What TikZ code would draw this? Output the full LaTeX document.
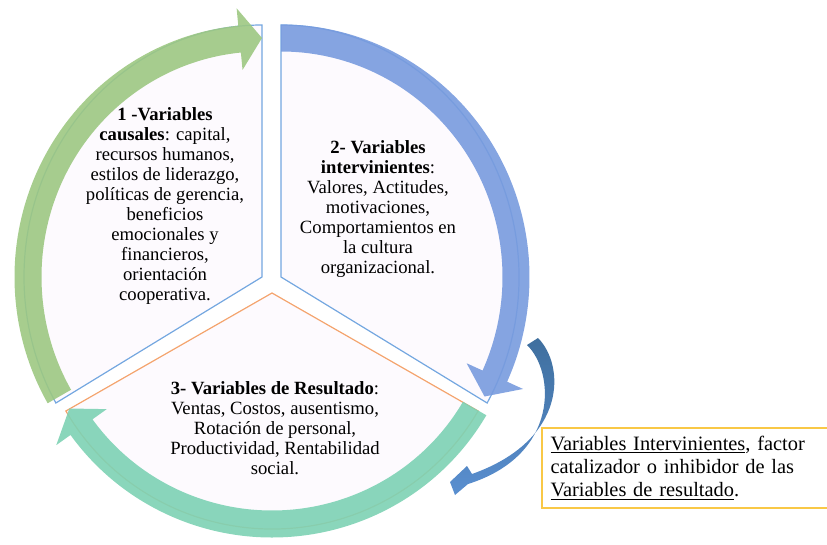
\documentclass[tikz,border=0pt]{standalone}
\usepackage{fontspec}
\setmainfont{Liberation Serif}
\usetikzlibrary{calc}
\definecolor{grn}{HTML}{9DC882}
\definecolor{blu}{HTML}{789BDE}
\definecolor{tea}{HTML}{7DD2B4}
\definecolor{edgeb}{HTML}{74A7E0}
\definecolor{edgeo}{HTML}{F4A46E}
\definecolor{pie}{HTML}{FDFAFE}
\definecolor{curvtop}{HTML}{3F6F9E}
\definecolor{curvbot}{HTML}{5A8FD0}
\definecolor{noteedge}{HTML}{F9C846}
\tikzset{
  sector/.style={fill=pie, line width=0.9pt, line join=miter},
  band/.style={fill opacity=0.9},
  lab/.style={font=\fontsize{14}{15}\selectfont, align=center, inner sep=0pt},
  note/.style={draw=noteedge, line width=1.3pt, font=\fontsize{15.3}{17.3}\selectfont,
    align=left, text width=240pt, inner xsep=6.5pt, minimum height=60pt}
}
% block arc arrow: centre, from, to, head base, rx, ry, colour
\newcommand{\bandarrow}[7]{%
  \pgfmathsetmacro{\rxo}{#5+13.5}\pgfmathsetmacro{\ryo}{#6+13.5}%
  \pgfmathsetmacro{\rxi}{#5-13.5}\pgfmathsetmacro{\ryi}{#6-13.5}%
  \pgfmathsetmacro{\rxw}{#5+31}\pgfmathsetmacro{\ryw}{#6+31}%
  \pgfmathsetmacro{\rxv}{#5-31}\pgfmathsetmacro{\ryv}{#6-31}%
  \fill[#7, band, shift={(#1)}] ({\rxo*cos(#2)},{\ryo*sin(#2)})
    arc[start angle=#2, end angle=#4, x radius=\rxo, y radius=\ryo]
    -- ({\rxw*cos(#4)},{\ryw*sin(#4)})
    -- ({#5*cos(#3)},{#6*sin(#3)})
    -- ({\rxv*cos(#4)},{\ryv*sin(#4)})
    -- ({\rxi*cos(#4)},{\ryi*sin(#4)})
    arc[start angle=#4, end angle=#2, x radius=\rxi, y radius=\ryi]
    -- cycle;}

\begin{document}
\begin{tikzpicture}[x=0.75pt, y=0.75pt]
  \useasboundingbox (0,0) rectangle (827,544);

  \coordinate (V1) at (262,267);
  \coordinate (V2) at (281,267);
  \coordinate (V3) at (272,251);

  % sectors
  \filldraw[sector, draw=edgeb] (V1) -- ++(90:238 and 252)
    arc[start angle=90, end angle=210, x radius=238, y radius=252] -- cycle;
  \filldraw[sector, draw=edgeb] (V2) -- ++(-30:238 and 252)
    arc[start angle=-30, end angle=90, x radius=238, y radius=252] -- cycle;
  \filldraw[sector, draw=edgeo] (V3) -- ++(210:238 and 236)
    arc[start angle=210, end angle=330, x radius=238, y radius=236] -- cycle;

  % arrows round the cycle
  \bandarrow{262,267}{210}{90}{95.5}{234}{239}{grn}
  \bandarrow{281,267}{90}{-30}{-24.5}{235}{239}{blu}
  \bandarrow{272,251}{-30}{-150}{-144.5}{234}{231}{tea}

  \node[lab] (t1) at (165,338) {\textbf{1 -Variables}\\ \textbf{causales}: capital,\\
    recursos humanos,\\ estilos de liderazgo,\\ políticas de gerencia,\\ beneficios\\
    emocionales y\\ financieros,\\ orientación\\ cooperativa.};
  \node[lab] (t2) at (378,335) {\textbf{2- Variables}\\ \textbf{intervinientes}:\\
    Valores, Actitudes,\\ motivaciones,\\ Comportamientos en\\ la cultura\\ organizacional.};
  \node[lab] (t3) at (275,116) {\textbf{3- Variables de Resultado}:\\
    Ventas, Costos, ausentismo,\\ Rotación de personal,\\ Productividad, Rentabilidad\\ social.};

  % curved arrow to the note
  \coordinate (c1) at (538,206);
  \coordinate (c2) at (527,199);
  \coordinate (tip) at (450,62);
  \shade[top color=curvtop, bottom color=curvbot]
    (c1) .. controls (565,179) and (568,104) .. (472,70) -- (467,78) -- (tip)
    -- (455,49) -- (468,60) .. controls (560,89) and (555,172) .. (c2) -- cycle;

  \node[note, anchor=north west] (note) at (541,117)
    {\underline{Variables Intervinientes}, factor\\ catalizador o inhibidor de las\\
     \underline{Variables de resultado}.};
\end{tikzpicture}
\end{document}
